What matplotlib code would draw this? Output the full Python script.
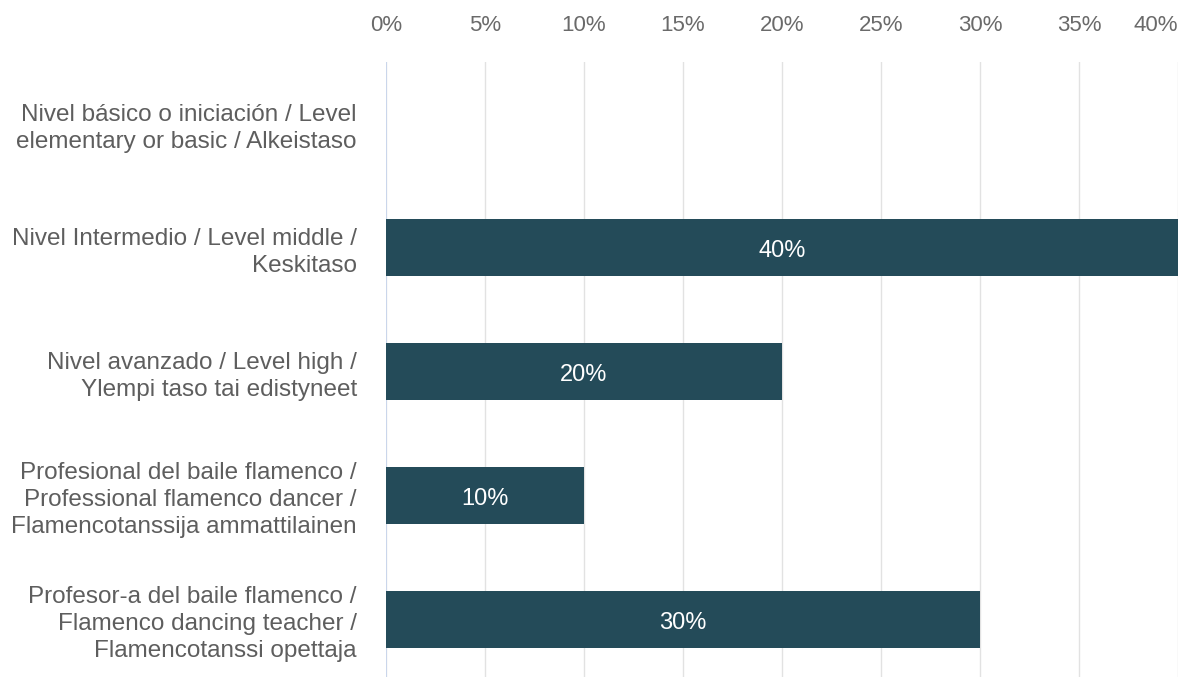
import numpy as np
import matplotlib.pyplot as plt

# категории и значения
categories = [
    "Nivel básico o iniciación / Level\nelementary or basic / Alkeistaso",
    "Nivel Intermedio / Level middle /\nKeskitaso",
    "Nivel avanzado / Level high /\nYlempi taso tai edistyneet",
    "Profesional del baile flamenco /\nProfessional flamenco dancer /\nFlamencotanssija ammattilainen",
    "Profesor-a del baile flamenco /\nFlamenco dancing teacher /\nFlamencotanssi opettaja",
]
values = [0, 40, 20, 10, 30]
x_ticks = [0, 5, 10, 15, 20, 25, 30, 35, 40]
tick_labels = [f"{t}%" for t in x_ticks]

plt.rcParams['font.family'] = ['Liberation Sans', 'DejaVu Sans']

fig = plt.figure(figsize=(11.88, 6.77), dpi=100)
ax = fig.add_axes([386/1188, 1 - 681/677, 792/1188, (681 - 62)/677])

y = np.arange(len(categories))
bars = ax.barh(y, values, height=0.46, color='#244b59', zorder=3)

# подписи на столбцах
for yi, v in zip(y, values):
    if v > 0:
        ax.text(v / 2, yi + 0.03, f"{v}%", ha='center', va='center',
                color='white', fontsize=17, zorder=4)

ax.set_xlim(0, 40)
ax.set_ylim(len(categories) - 0.5, -0.5)

ax.set_xticks(x_ticks)
ax.set_xticklabels(tick_labels)
ax.xaxis.tick_top()
ax.tick_params(axis='x', length=0, pad=19, labelsize=16, labelcolor='#6a6a6a')
ax.get_xticklabels()[-1].set_ha('right')

ax.set_yticks(y)
ax.set_yticklabels(categories, fontsize=17.5, color='#5e5e5e', linespacing=1.28)
ax.tick_params(axis='y', length=0, pad=21)

ax.grid(axis='x', color='#e2e2e2', linewidth=1, zorder=0)
ax.axvline(0, color='#c6d4ee', linewidth=1.2, zorder=2)
for s in ax.spines.values():
    s.set_visible(False)

fig.savefig('out.png', dpi=100)
